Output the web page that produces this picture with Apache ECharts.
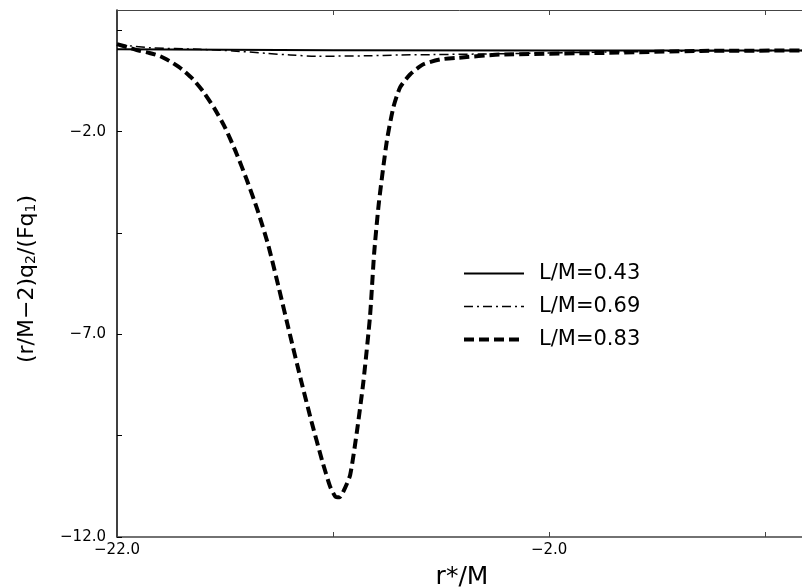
<!DOCTYPE html>
<html>
<head>
<meta charset="utf-8">
<script src="https://cdn.jsdelivr.net/npm/echarts@6/dist/echarts.min.js"></script>
<style>
  html, body { margin: 0; padding: 0; background: #fff; }
  #chart { width: 802px; height: 588px; }
</style>
</head>
<body>
<div id="chart"></div>
<script>
// values: [r*/M, (r/M-2)q2/(Fq1)]
const seriesNames = ['L/M=0.43', 'L/M=0.69', 'L/M=0.83']
const solidData = [[-22.0, 0.03], [-17.0, 0.02], [-12.0, 0.01], [-2.0, 0.0], [9.7, 0.0]]
const dashDotData = [
  [-22.0, 0.15], [-20.47, 0.07], [-18.16, 0.03], [-16.63, -0.01], [-15.07, -0.07],
  [-13.99, -0.11], [-12.75, -0.14], [-10.44, -0.13], [-8.9, -0.11], [-7.37, -0.1],
  [-4.27, -0.08], [0.36, -0.04], [5.0, -0.01], [9.7, 0.0]
]
const dashedData = [
  [-22.0, 0.16], [-21.5, 0.08], [-21.0, 0.0], [-20.5, -0.06], [-20.0, -0.14],
  [-19.5, -0.28], [-19.0, -0.46], [-18.5, -0.7], [-18.0, -1.02], [-17.5, -1.42],
  [-17.0, -1.9], [-16.5, -2.5], [-16.0, -3.18], [-15.5, -3.93], [-15.0, -4.8],
  [-14.5, -5.88], [-14.0, -7.0], [-13.5, -8.1], [-13.0, -9.15], [-12.5, -10.13],
  [-12.14, -10.75], [-11.9, -11.0], [-11.7, -11.02], [-11.5, -10.85], [-11.21, -10.47],
  [-10.9, -9.41], [-10.6, -8.18], [-10.29, -6.55], [-10.1, -5.0], [-9.88, -3.75],
  [-9.51, -2.22], [-9.21, -1.4], [-8.9, -0.91], [-8.44, -0.59], [-7.82, -0.34],
  [-7.05, -0.22], [-6.27, -0.18], [-4.27, -0.1], [0.36, -0.06], [5.0, -0.01], [9.7, 0.0]
]
const xTickValues = [-22, -12, -2, 8]
const xLabelValues = [-22, -2]
const yTickValues = [-12, -9.5, -7, -4.5, -2, 0.5]
const yLabelValues = [-12, -7, -2]

const fontFamily = '"DejaVu Sans", sans-serif'
const fmt = v => (v < 0 ? '\u2212' : '') + Math.abs(v).toFixed(1)

const lineStyles = [
  { color: '#000', width: 2, type: 'solid' },
  { color: '#000', width: 1.5, type: [9, 4, 2, 4] },
  { color: '#000', width: 4, type: [10, 5] }
]

const chart = echarts.init(document.getElementById('chart'))

chart.setOption({
  animation: false,
  backgroundColor: '#fff',
  grid: { left: 117, right: 0, top: 10, bottom: 51 },
  legend: {
    orient: 'vertical',
    left: 462,
    top: 263,
    padding: 0,
    itemWidth: 60,
    itemHeight: 14,
    itemGap: 12,
    itemStyle: { opacity: 0 },
    textStyle: { fontFamily, fontSize: 21, color: '#000', padding: [0, 0, 0, 10] },
    data: seriesNames.map((name, i) => ({ name, lineStyle: lineStyles[i] }))
  },
  xAxis: [
    {
      type: 'value',
      min: -22,
      max: 9.7,
      axisLine: { onZero: false, lineStyle: { color: '#444', width: 1.5 } },
      axisTick: { inside: true, length: 5, customValues: xTickValues, lineStyle: { color: '#444' } },
      axisLabel: {
        customValues: xLabelValues,
        formatter: fmt,
        margin: 6,
        fontFamily,
        fontSize: 15,
        color: '#000'
      },
      splitLine: { show: false }
    },
    {
      type: 'value',
      position: 'top',
      min: -22,
      max: 9.7,
      axisLine: { onZero: false, lineStyle: { color: '#444', width: 1 } },
      axisTick: { inside: true, length: 5, customValues: xTickValues, lineStyle: { color: '#444' } },
      axisLabel: { show: false },
      splitLine: { show: false }
    }
  ],
  yAxis: {
    type: 'value',
    min: -12,
    max: 1,
    axisLine: { onZero: false, lineStyle: { color: '#000', width: 1.5 } },
    axisTick: { inside: true, length: 5, customValues: yTickValues, lineStyle: { color: '#000' } },
    axisLabel: {
      customValues: yLabelValues,
      formatter: fmt,
      margin: 11,
      fontFamily,
      fontSize: 15,
      color: '#000'
    },
    splitLine: { show: false }
  },
  graphic: [
    {
      type: 'text',
      x: 462,
      y: 577,
      style: {
        text: 'r*/M',
        fontFamily,
        fontSize: 25,
        fill: '#000',
        align: 'center',
        verticalAlign: 'middle'
      }
    },
    {
      type: 'text',
      x: 27,
      y: 279,
      rotation: Math.PI / 2,
      style: {
        text: '(r/M\u22122)q{sub|2}/(Fq{sub|1})',
        fontFamily,
        fontSize: 22,
        fill: '#000',
        align: 'center',
        verticalAlign: 'middle',
        rich: {
          sub: { fontFamily, fontSize: 14, fill: '#000', verticalAlign: 'bottom', padding: [9, 0, 0, 0] }
        }
      }
    }
  ],
  series: seriesNames.map((name, i) => ({
    name,
    type: 'line',
    data: [solidData, dashDotData, dashedData][i],
    symbol: 'none',
    smooth: [false, 0.3, 0.2][i],
    lineStyle: lineStyles[i],
    itemStyle: { color: '#000' }
  }))
})
</script>
</body>
</html>
